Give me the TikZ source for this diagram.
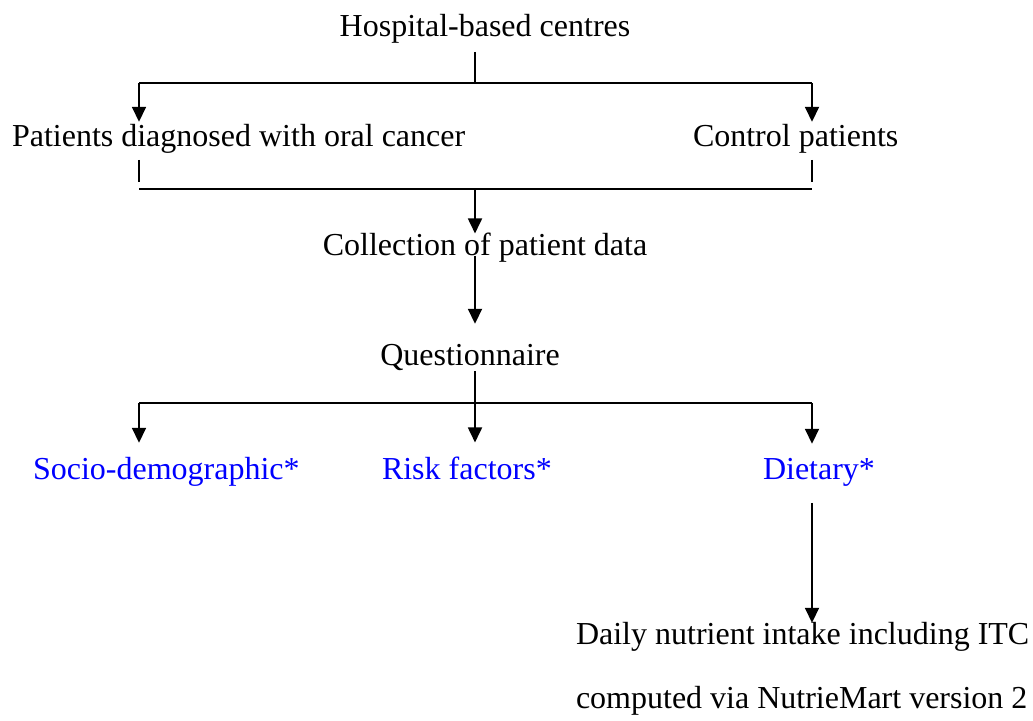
\documentclass[tikz,border=0pt]{standalone}
\usepackage{fontspec}
\setmainfont{Liberation Serif}
\usetikzlibrary{arrows.meta}
\definecolor{factorblue}{RGB}{0,0,255}
\tikzset{
    txt/.style={font=\fontsize{16}{19}\selectfont, inner sep=0pt, outer sep=0pt, anchor=base},
    factor/.style={txt, text=factorblue},
    link/.style={line width=0.9pt},
    arrow/.style={link, -{Triangle[length=7.5pt,width=7pt]}}
}
\begin{document}
\begin{tikzpicture}[x=0.5pt,y=0.5pt]
        \useasboundingbox (0,0) rectangle (1033,721);

        \node[txt] (hosp) at (485,684) {Hospital-based centres};
        \node[txt, anchor=base west] (cancer) at (12,574) {Patients diagnosed with oral cancer};
        \node[txt, anchor=base west] (control) at (693,574) {Control patients};
        \node[txt] (collect) at (485,465) {Collection of patient data};
        \node[txt] (quest) at (470,355) {Questionnaire};
        \node[factor, anchor=base west] (socio) at (33,241) {Socio-demographic*};
        \node[factor, anchor=base west] (risk) at (382,241) {Risk factors*};
        \node[factor, anchor=base west] (diet) at (763,241) {Dietary*};
        \node[txt, anchor=base west] (intake) at (576,76) {Daily nutrient intake including ITC};
        \node[txt, anchor=base west] (nutriemart) at (576,12) {computed via NutrieMart version 2};

        \coordinate (hub) at (475,638);
        \coordinate (hubL) at (139,638);
        \coordinate (hubR) at (812,638);
        \coordinate (joinL) at (139,532);
        \coordinate (joinM) at (475,532);
        \coordinate (joinR) at (812,532);
        \coordinate (qhub) at (475,318);
        \coordinate (qhubL) at (139,318);
        \coordinate (qhubR) at (812,318);

        \draw[link, shorten <=4pt] (hosp.south -| hub) -- (hub) ;
        \draw[link] (hubL) -- (hubR) ;
        \draw[arrow, shorten >=1.5pt] (hubL) -- (cancer.north -| hubL) ;
        \draw[arrow, shorten >=1.5pt] (hubR) -- (control.north -| hubR) ;

        \draw[link, shorten <=3pt] (cancer.south -| joinL) -- ++(0,-28) ;
        \draw[link, shorten <=3pt] (control.south -| joinR) -- ++(0,-28) ;
        \draw[link] (joinL) -- (joinR) ;
        \draw[arrow] (joinM) -- (collect.north -| joinM) ;

        \draw[arrow, shorten >=10.5pt] (collect.base -| joinM) -- (quest.north -| joinM) ;
        \draw[link] (quest.south -| qhub) -- (qhub) ;
        \draw[link] (qhubL) -- (qhubR) ;
        \draw[arrow, shorten >=7.5pt] (qhubL) -- (socio.north -| qhubL) ;
        \draw[arrow, shorten >=7.5pt] (qhub) -- (risk.north -| qhub) ;
        \draw[arrow, shorten >=7.5pt] (qhubR) -- (diet.north -| qhubR) ;

        \draw[arrow, shorten <=8pt] (diet.south -| qhubR) -- (intake.north -| qhubR) ;
\end{tikzpicture}
\end{document}
